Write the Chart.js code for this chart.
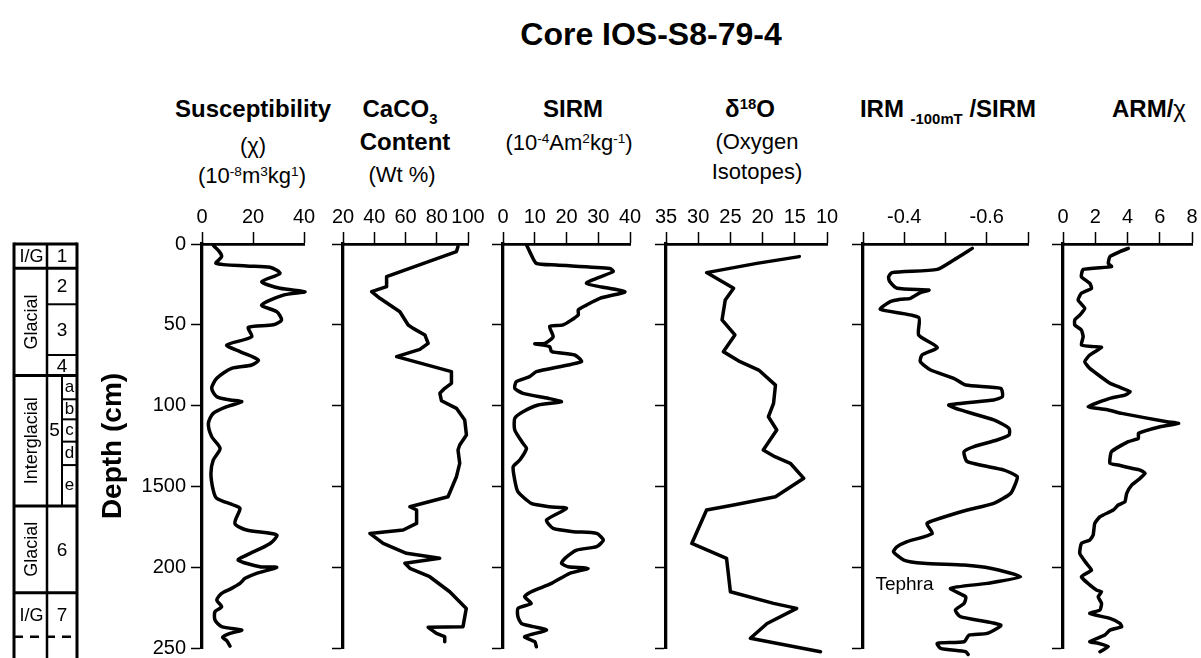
<!DOCTYPE html>
<html><head><meta charset="utf-8">
<script src="https://cdn.jsdelivr.net/npm/chart.js@4.4.1/dist/chart.umd.min.js"></script>
<style>
html,body{margin:0;padding:0;background:#fff;}
body{width:1201px;height:658px;position:relative;overflow:hidden;font-family:"Liberation Sans",Arial,sans-serif;color:#000;}
canvas.c{position:absolute;}
.t{position:absolute;transform:translate(-50%,-50%);white-space:nowrap;line-height:1;}
.b{font-weight:bold;font-size:24px;}
.r{font-size:22px;}
.sp{font-size:62%;position:relative;top:-0.55em;}
.sb{font-size:62%;position:relative;top:0.45em;}
</style></head><body>
<div class="t b" style="left:651px;top:34px;font-size:32px">Core IOS-S8-79-4</div>

<div class="t b" style="left:253px;top:109px">Susceptibility</div>
<div class="t r" style="left:253px;top:146px">(χ)</div>
<div class="t r" style="left:252px;top:176px">(10<span class="sp">-8</span>m<span class="sp">3</span>kg<span class="sp">1</span>)</div>

<div class="t b" style="left:400px;top:109px">CaCO<span class="sb">3</span></div>
<div class="t b" style="left:405px;top:142px">Content</div>
<div class="t r" style="left:402px;top:175px">(Wt %)</div>

<div class="t b" style="left:573px;top:109px">SIRM</div>
<div class="t r" style="left:569px;top:143px">(10<span class="sp">-4</span>Am<span class="sp">2</span>kg<span class="sp">-1</span>)</div>

<div class="t b" style="left:750px;top:109px">δ<span class="sp">18</span>O</div>
<div class="t r" style="left:757px;top:142px">(Oxygen</div>
<div class="t r" style="left:757px;top:172px">Isotopes)</div>

<div class="t b" style="left:948px;top:109px">IRM <span class="sb">-100mT</span> /SIRM</div>
<div class="t b" style="left:1149px;top:109px">ARM/<span style="font-weight:normal">χ</span></div>

<script>
// ---------------- data ----------------
const depthTickLabels = ['0','50','100','1500','200','250'];
const irmTickLabels = {'-4':'-0.4','-6':'-0.6'};

const suscDepth = [1,4.7,7.8,12,13.6,14.4,18.2,23.3,27.4,29.5,31.6,37.8,41.9,47,50,51.6,57.4,62.5,66.6,71.8,74.9,77,83.1,89.3,94.5,96.5,97.6,100.7,104.8,111,119.2,126.5,133.7,142,152.3,157.4,161.5,163.6,172.9,177,180.1,185.3,192.5,195.6,199.7,200.1,203.8,206.9,210,213.1,216.2,220.3,224.5,227.5,232.7,236.8,238.9,241,243.4,245.5,248.8];
const suscValues = [4.5,6.8,7.7,5.5,17.5,26.7,30.6,23.4,30.6,40.4,31.9,23.4,29.3,31.2,28,18.2,19.5,9.7,14.9,22.1,19.5,11.6,5.8,3.8,5.8,11,15.6,9.7,4.4,2.5,3.8,7.1,4.4,3.5,4.4,5.8,12.3,14.9,12.9,17.5,29.3,26.7,17.5,14.2,22.7,29.3,21.4,16.9,14.9,11.6,7.7,5.8,7.7,5.1,5.1,7.7,15.6,11,8.1,9.7,11];

const caco3Depth = [1.6,4.7,20.2,26.4,29.5,33.6,41.9,50.1,52.2,56.3,61.5,65.2,69.7,79,86.2,89.3,92.4,97,101.7,108.9,118.2,124.4,127.5,135.7,144,156.4,162.6,164.6,172.9,177,179.1,185.3,191.4,194.5,197.6,200.7,205.9,215.2,225.5,236.8,237.2,241,243,246.1];
const caco3Values = [93.6,92.6,47.9,47.9,38.3,43.6,56.4,61.7,64.9,72.4,74.5,69.2,54.3,89.4,89.4,85.1,82,83,92.6,97.9,99,94.7,93.6,94.7,92.6,87.2,62.8,67.1,67.1,58.5,37.2,45.7,60.6,81.9,59.6,62.8,75.5,88.3,98.9,96.8,74.5,79.8,85.1,85.1];

const sirmDepth = [0.6,4.7,12,13,15.1,17.1,24.3,29.5,33.6,37.8,40.8,43.9,50.1,51,57.4,61.5,61.8,63.5,66.6,68.7,72.8,79,82.1,85.2,89.3,92.4,95.5,97.6,99.6,103.8,107.9,115.1,123.4,126.5,133.7,137.8,146.1,153.3,160.5,162.6,163.6,170.8,176,178,179.1,183.2,187.3,189.4,194.5,197.6,199.7,200.7,203.8,210,215.2,218.3,222.4,225.5,230.6,234.8,236.8,238.9,243,246.1,249.2];
const sirmValues = [7.4,8.4,10.5,16.8,33.7,34.7,26.3,38.4,30.5,26.3,23.7,23.7,18.9,14.7,15.8,13.2,10,14.7,15.3,22.6,24.7,10.5,8.4,4.2,3.7,6.3,14.2,18.4,11.1,6.3,3.7,3.7,6.3,7.4,5.3,3.2,3.7,4.7,8.9,14.7,20,13.7,15.8,22.1,29.5,31.6,29.5,23.2,19.5,18.4,20.5,26.8,21,15.3,8.9,6.8,8.9,4.7,4.7,5.8,9.5,13.7,6.8,10,10.5];

const d18oDepth = [7.8,12,17.7,27.4,34.7,47,56.3,66.6,72.8,78,87.3,98.6,106.9,115.1,127.5,131.6,135.7,145,156.4,161.5,164.6,185.3,194.5,215.2,222.4,225.5,234.8,244,252.3];
const d18oValues = [14.3,20.9,28.7,24.5,25.8,26.3,24.3,26.1,23.5,20.6,18,18.3,19.1,17.8,19.9,18.1,15.7,13.6,18,24.5,28.7,31,25.6,25,18.3,14.7,19.3,21.9,11];

const irmDepth = [2.7,9.9,15.7,17.7,20.5,23.3,27.4,28.5,30.1,33.6,34.2,35.7,40.4,45.4,56.3,64,68.7,72.8,78,83.1,87.3,89.3,94.5,96.5,99.6,102.7,108.9,114.1,118.2,121.3,125.4,128.5,134.7,139.9,144,148.1,154.3,160.5,164.6,167.7,172.9,179.1,184.2,187.3,190.4,195.6,197.6,198.7,200.7,205.9,210,213.1,218.3,222.4,226.5,230.6,235.8,241,242,246.1,247.1,250.2,252.3,254];
const irmValues = [-0.565,-0.52,-0.48,-0.37,-0.362,-0.365,-0.383,-0.46,-0.439,-0.415,-0.391,-0.366,-0.342,-0.435,-0.435,-0.48,-0.443,-0.439,-0.464,-0.52,-0.549,-0.634,-0.638,-0.617,-0.508,-0.536,-0.617,-0.654,-0.654,-0.625,-0.569,-0.545,-0.553,-0.642,-0.674,-0.67,-0.658,-0.617,-0.553,-0.512,-0.455,-0.468,-0.407,-0.383,-0.374,-0.399,-0.447,-0.545,-0.609,-0.682,-0.601,-0.512,-0.549,-0.545,-0.524,-0.536,-0.634,-0.601,-0.557,-0.545,-0.48,-0.488,-0.549,-0.555];

const armDepth = [2.7,4.7,7.8,12,14,15.7,20.2,24.3,27.4,30.5,34.7,39.8,44,47,50.1,53.2,57.4,62.5,63.5,64,68.7,72.8,77,86.2,88.3,91.4,93.5,95.5,100.7,102.7,104.8,110,111,113.1,117.2,120.3,122.3,128.5,135.7,136.8,138.8,139.9,141.9,145,149.2,154.3,159.5,161.5,164.6,168.8,172.9,180.1,183.2,185.3,191.4,197.6,201.8,205.9,214.2,215.2,218.3,222.4,226.5,228.6,231.7,234.8,236.8,238.9,242,246.1,247.1,249.2,252.3];
const armValues = [4.05,3.53,2.91,2.81,3.01,1.25,1.14,1.66,1.77,1.14,0.94,1.35,1.04,0.73,0.73,1.14,1.25,1.14,1.97,2.39,1.66,1.35,1.66,2.91,3.43,4.16,3.84,2.91,1.56,2.81,3.64,6.44,7.17,6.03,4.68,4.68,4.05,3.01,2.91,3.43,4.26,4.78,5.09,4.78,4.26,3.95,3.84,3.43,3.12,2.29,1.97,1.87,1.66,1.14,1.04,1.45,1.77,1.14,2.08,2.39,2.18,2.39,2.29,1.66,2.91,3.53,3.64,2.91,2.6,1.66,2.18,2.81,2.29];

// stratigraphic column (depth in cm)
const climateLabels  = ['I/G','Glacial','Interglacial','Glacial','I/G'];
const climateTops    = [0,15,81.4,162.1,215.8];
const climateBottoms = [15,81.4,162.1,215.8,243];
const stageLabels  = ['1','2','3','4','5','6','7'];
const stageTops    = [0,15,37.3,68.7,81.4,162.1,215.8];
const stageBottoms = [15,37.3,68.7,81.4,162.1,215.8,243];
const subLabels  = ['a','b','c','d','e'];
const subTops    = [81.4,96.1,108.5,122.3,136.8];
const subBottoms = [96.1,108.5,122.3,136.8,162.1];
const dashedDepth = 243;
const tephraLabel = {text:'Tephra', value:-0.33, depth:214};

// ---------------- layout ----------------
const FONT = '"Liberation Sans", Arial, sans-serif';
Chart.defaults.font.family = FONT;
Chart.defaults.color = '#000';
const TOP = 180, H = 478, XH = 64;

const stratPlugin = {
  id:'strat',
  afterDraw(chart){
    const ctx = chart.ctx, ys = chart.scales.y;
    const py = d => ys.getPixelForValue(d);
    const L = 14, M = 47, R = 77, S = 62, bottom = chart.height;
    ctx.save();
    ctx.strokeStyle = '#000'; ctx.fillStyle = '#000';
    const line = (x0,y0,x1,y1,w) => {ctx.lineWidth = w; ctx.beginPath(); ctx.moveTo(x0,y0); ctx.lineTo(x1,y1); ctx.stroke();};
    line(L, py(0)-1.5, L, bottom, 3);
    line(R, py(0)-1.5, R, bottom, 3);
    line(M, py(0), M, bottom, 2.5);
    line(L, py(0), R, py(0), 3);
    climateTops.slice(1).forEach(d => line(L, py(d), R, py(d), 3));
    stageTops.forEach(d => { if (!climateTops.includes(d)) line(M, py(d), R, py(d), 2); });
    line(S, py(subTops[0]), S, py(subBottoms[subBottoms.length-1]), 2);
    subTops.slice(1).forEach(d => line(S, py(d), R, py(d), 2));
    ctx.setLineDash([9,7]);
    line(L, py(dashedDepth), R, py(dashedDepth), 2.5);
    ctx.setLineDash([]);
    ctx.textAlign = 'center'; ctx.textBaseline = 'middle';
    ctx.font = '18px ' + FONT;
    climateLabels.forEach((t,i) => {
      const cy = (py(climateTops[i]) + py(climateBottoms[i]))/2;
      const cx = (L+M)/2 + 1;
      if (t.length > 3) {
        ctx.save(); ctx.translate(cx, cy); ctx.rotate(-Math.PI/2); ctx.fillText(t, 0, 1); ctx.restore();
      } else ctx.fillText(t, cx, cy + 1);
    });
    ctx.font = '19px ' + FONT;
    stageLabels.forEach((t,i) => {
      const cy = (py(stageTops[i]) + py(stageBottoms[i]))/2;
      const cx = t === '5' ? (M+S)/2 : (M+R)/2;
      ctx.fillText(t, cx, t === '5' ? cy - 10 : cy + 1);
    });
    ctx.font = '17px ' + FONT;
    subLabels.forEach((t,i) => {
      const cy = (py(subTops[i]) + py(subBottoms[i]))/2;
      ctx.fillText(t, (S+R)/2, cy);
    });
    ctx.font = 'bold 28px ' + FONT;
    ctx.save(); ctx.translate(113, py(125)); ctx.rotate(-Math.PI/2); ctx.fillText('Depth (cm)', 0, 0); ctx.restore();
    ctx.restore();
  }
};

const tephraPlugin = {
  id:'tephra',
  afterDraw(chart){
    const ctx = chart.ctx;
    ctx.save(); ctx.fillStyle = '#000'; ctx.font = '19px ' + FONT;
    ctx.textAlign = 'left'; ctx.textBaseline = 'alphabetic';
    ctx.fillText(tephraLabel.text, chart.scales.x.getPixelForValue(tephraLabel.value), chart.scales.y.getPixelForValue(tephraLabel.depth));
    ctx.restore();
  }
};

function makePanel(o){
  const cv = document.createElement('canvas');
  const padR = o.padR;
  const left = o.x0 - o.yw;
  const w = o.yw + (o.x1 - o.x0) + padR;
  cv.width = w; cv.height = H;
  cv.style.left = left + 'px'; cv.style.top = TOP + 'px'; cv.style.width = w + 'px'; cv.style.height = H + 'px';
  cv.className = 'c';
  document.body.appendChild(cv);
  const pts = o.depth.map((d,i) => ({x:o.values[i], y:d}));
  new Chart(cv, {
    type:'scatter',
    data:{datasets:[{data:pts, showLine:true, borderColor:'#000', backgroundColor:'#000', borderWidth:3.5, pointRadius:0, pointHoverRadius:0, tension:o.tension, clip:false, borderJoinStyle:'round', borderCapStyle:'round'}]},
    options:{
      responsive:false, animation:false, devicePixelRatio:1, events:[],
      layout:{padding:{left:0, right:padR, top:0, bottom:10}},
      plugins:{legend:{display:false}, tooltip:{enabled:false}},
      scales:{
        x:{type:'linear', position:'top', min:o.min, max:o.max, reverse:!!o.reverse,
           ticks:{stepSize:o.step, autoSkip:false, maxRotation:0, minRotation:0, padding:3, font:{size:20}, color:'#000', callback:o.xcb},
           grid:{drawOnChartArea:false, drawTicks:true, tickLength:12, tickWidth:1.5, tickColor:'#000', color:'#000'},
           border:{display:true, color:'#000', width:2.7},
           afterFit:s => {s.height = XH; s.paddingLeft = 0; s.paddingRight = 0;}},
        y:{type:'linear', position:'left', min:0, max:250, reverse:true,
           ticks:{stepSize:50, display:!!o.ylabels, padding:5, font:{size:20}, color:'#000', callback:v => depthTickLabels[Math.round(v/50)]},
           grid:{drawOnChartArea:false, drawTicks:true, tickLength:11, tickWidth:1.5, tickColor:'#000', color:'#000'},
           border:{display:true, color:'#000', width:3.3},
           afterFit:s => {s.width = o.yw; s.paddingTop = 0; s.paddingBottom = 0;}}
      }
    },
    plugins:o.plugins || []
  });
}

const numLabel = v => String(Math.round(v));
makePanel({x0:202, x1:304, yw:202, padR:22, min:0, max:40, step:20, depth:suscDepth, values:suscValues, tension:0.25, ylabels:true, xcb:numLabel, plugins:[stratPlugin]});
makePanel({x0:343, x1:468, yw:40, padR:22, min:20, max:100, step:20, depth:caco3Depth, values:caco3Values, tension:0, xcb:numLabel});
makePanel({x0:503, x1:630, yw:40, padR:22, min:0, max:40, step:10, depth:sirmDepth, values:sirmValues, tension:0.2, xcb:numLabel});
makePanel({x0:666, x1:827, yw:40, padR:22, min:10, max:35, step:5, reverse:true, depth:d18oDepth, values:d18oValues, tension:0, xcb:numLabel});
makePanel({x0:863, x1:1028, yw:40, padR:22, min:-0.7, max:-0.3, step:0.1, reverse:true, depth:irmDepth, values:irmValues, tension:0.2, xcb:v => irmTickLabels[String(Math.round(v*10))] || '', plugins:[tephraPlugin]});
makePanel({x0:1063, x1:1192, yw:40, padR:9, min:0, max:8, step:2, depth:armDepth, values:armValues, tension:0.15, xcb:numLabel});
</script>
</body></html>
